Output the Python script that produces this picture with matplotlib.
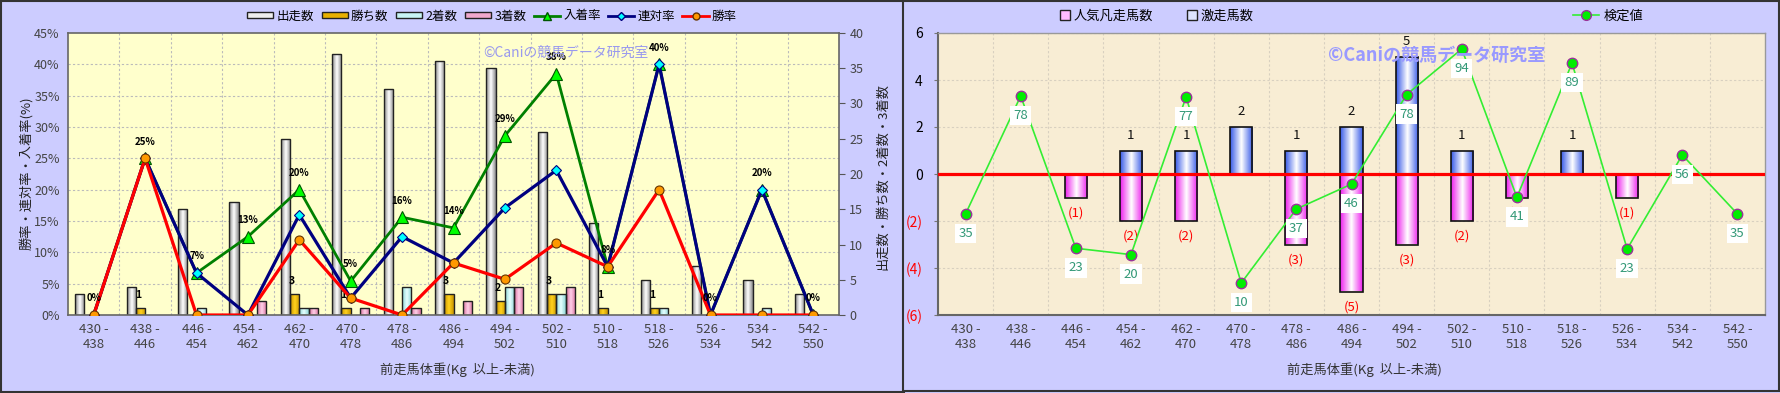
import numpy as np
import matplotlib
matplotlib.use('Agg')
import matplotlib.pyplot as plt
from matplotlib.patches import Rectangle, Patch
from matplotlib.lines import Line2D
from matplotlib.colors import LinearSegmentedColormap
from matplotlib.ticker import FixedLocator, FuncFormatter

plt.rcParams['font.family'] = ['Noto Sans CJK JP', 'DejaVu Sans']

# categories (前走馬体重)
cats = ['430 -\n438', '438 -\n446', '446 -\n454', '454 -\n462', '462 -\n470',
        '470 -\n478', '478 -\n486', '486 -\n494', '494 -\n502', '502 -\n510',
        '510 -\n518', '518 -\n526', '526 -\n534', '534 -\n542', '542 -\n550']

# left chart: counts
runs = [3, 4, 15, 16, 25, 37, 32, 36, 35, 26, 13, 5, 7, 5, 3]
wins = [0, 1, 0, 0, 3, 1, 0, 3, 2, 3, 1, 1, 0, 0, 0]
seconds = [0, 0, 1, 0, 1, 0, 4, 0, 4, 3, 0, 1, 0, 1, 0]
thirds = [0, 0, 0, 2, 1, 1, 1, 2, 4, 4, 0, 0, 0, 0, 0]
# left chart: rates (%)
win_rate = [0, 25, 0, 0, 12, 2.7, 0, 8.3, 5.7, 11.5, 7.7, 20, 0, 0, 0]
rentai_rate = [0, 25, 6.7, 0, 16, 2.7, 12.5, 8.3, 17.1, 23.1, 7.7, 40, 0, 20, 0]
place_rate = [0, 25, 6.7, 12.5, 20, 5.4, 15.6, 13.9, 28.6, 38.5, 7.7, 40, 0, 20, 0]
place_lbl = ['0%', '25%', '7%', '13%', '20%', '5%', '16%', '14%', '29%', '38%',
             '8%', '40%', '0%', '20%', '0%']

# right chart
gekiso = [0, 0, 0, 1, 1, 2, 1, 2, 5, 1, 0, 1, 0, 0, 0]
bonso = [0, 0, -1, -2, -2, 0, -3, -5, -3, -2, -1, 0, -1, 0, 0]
kentei_y = [-1.70, 3.32, -3.16, -3.43, 3.28, -4.64, -1.49, -0.43, 3.38, 5.32,
            -0.99, 4.72, -3.19, 0.81, -1.70]
kentei_lbl = [35, 78, 23, 20, 77, 10, 37, 46, 78, 94, 41, 89, 23, 56, 35]

W, H = 1780, 393
LAV = '#CCCCFF'
GRAY = '#444444'


def grad_bars(ax, bars, c_edge, c_mid):
    cm = LinearSegmentedColormap.from_list('g', [c_edge, c_mid, c_edge])
    g = np.linspace(0, 1, 40).reshape(1, -1)
    for b in bars:
        h = b.get_height()
        if h == 0:
            b.set_linewidth(0)
            continue
        x0, y0, w = b.get_x(), b.get_y(), b.get_width()
        im = ax.imshow(g, cmap=cm, extent=[x0, x0 + w, y0, y0 + h],
                       aspect='auto', zorder=b.get_zorder() - 0.05)
        im.set_clip_path(b)


fig = plt.figure(figsize=(W / 100, H / 100), dpi=100)
fig.patch.set_facecolor(LAV)
fig.add_artist(Rectangle((0.0005, 0.002), 903 / W, 0.996, transform=fig.transFigure,
                         facecolor=LAV, edgecolor='#333333', lw=1.5, zorder=0))
fig.add_artist(Rectangle((903 / W, 0.004), 876 / W, 0.994, transform=fig.transFigure,
                         facecolor=LAV, edgecolor='#333333', lw=1.5, zorder=0))

x = np.arange(len(cats))

# ---------------- left chart ----------------
axb = fig.add_axes([68 / W, 78 / H, 771 / W, 282 / H])
axb.set_facecolor('#FFFFCC')
axl = axb.twinx()

bw = 0.18
series = [(runs, -0.27, '#8C8C8C', '#FFFFFF'),
          (wins, -0.09, '#C89400', '#FFD21E'),
          (seconds, 0.09, '#8ED6D6', '#E6FFFF'),
          (thirds, 0.27, '#D8709E', '#FFD0E8')]
for vals, off, ce, cmid in series:
    bars = axb.bar(x + off, vals, bw, facecolor='none', edgecolor='#222222',
                   lw=1.0, zorder=2)
    grad_bars(axb, bars, ce, cmid)
for xi, v in zip(x, wins):
    if v > 0:
        axb.annotate(str(v), (xi - 0.09, v), xytext=(-2, 9), textcoords='offset points',
                     ha='center', va='center', fontsize=7.5, fontweight='bold', zorder=3)
axb.set_xlim(-0.5, 14.5)
axb.set_ylim(0, 40)
axb.yaxis.tick_right()
axb.yaxis.set_label_position('right')
axb.set_yticks(np.arange(0, 41, 5))
axb.yaxis.set_minor_locator(FixedLocator(np.arange(5, 46, 5) * 40 / 45))
axb.xaxis.set_minor_locator(FixedLocator(np.arange(0.5, 14, 1)))
axb.grid(which='minor', color='#BBBBBB', ls=(0, (2, 2)), lw=0.8)
axb.set_axisbelow(True)
axb.set_xticks(x, cats)
axb.tick_params(axis='x', which='both', length=0, labelsize=9.5, labelcolor=GRAY, pad=6)
axb.tick_params(axis='y', which='minor', length=0)
axb.tick_params(axis='y', which='major', length=4, labelsize=9, labelcolor=GRAY,
                color='#555555')
for s in axb.spines.values():
    s.set_color('#666666')
    s.set_linewidth(1.2)

axl.yaxis.tick_left()
axl.yaxis.set_label_position('left')
axl.set_ylim(0, 45)
axl.set_yticks(np.arange(0, 46, 5))
axl.yaxis.set_major_formatter(FuncFormatter(lambda v, p: '%d%%' % v))
axl.tick_params(axis='y', length=0, labelsize=9, labelcolor=GRAY, pad=6)
for s in axl.spines.values():
    s.set_visible(False)
axl.plot(x, place_rate, color='#008000', lw=2, marker='^', ms=8, mfc='#00FF00',
         mec='#005500', mew=0.8, zorder=3)
axl.plot(x, rentai_rate, color='#000080', lw=2.3, marker='D', ms=5.5, mfc='#00FFFF',
         mec='#000080', mew=0.8, zorder=4)
axl.plot(x, win_rate, color='#FF0000', lw=2.3, marker='o', ms=6.5, mfc='#FF9900',
         mec='#663300', mew=0.8, zorder=5)
for xi, v, t in zip(x, place_rate, place_lbl):
    axl.annotate(t, (xi, v), xytext=(0, 12), textcoords='offset points', ha='center',
                 va='center', fontsize=7, fontweight='bold', zorder=6)

fig.text(26 / W, 0.56, '勝率・連対率・入着率(%)', rotation=90, ha='center',
         va='center', fontsize=9.5, color='#222222')
fig.text(883 / W, 0.55, '出走数・勝ち数・2着数・3着数', rotation=90, ha='center',
         va='center', fontsize=9.5, color='#222222')
fig.text(457 / W, 1 - 370 / H, '前走馬体重(Kg  以上-未満)', ha='center', va='center',
         fontsize=9.5, color='#333333')
fig.text(483 / W, 1 - 53 / H, '©Caniの競馬データ研究室', ha='left', va='center',
         fontsize=10, color='#9999EE')

lh = [Patch(facecolor='#EEEEEE', edgecolor='#222222', label='出走数'),
      Patch(facecolor='#E8B000', edgecolor='#222222', label='勝ち数'),
      Patch(facecolor='#C8F4F4', edgecolor='#222222', label='2着数'),
      Patch(facecolor='#F0A8CC', edgecolor='#222222', label='3着数'),
      Line2D([], [], color='#008000', lw=2, marker='^', ms=6, mfc='#00FF00',
             mec='#005500', label='入着率'),
      Line2D([], [], color='#000080', lw=2, marker='D', ms=4.5, mfc='#00FFFF',
             mec='#000080', label='連対率'),
      Line2D([], [], color='#FF0000', lw=2, marker='o', ms=5, mfc='#FF9900',
             mec='#663300', label='勝率')]
fig.legend(handles=lh, loc='center', bbox_to_anchor=(492 / W, 1 - 16 / H), ncol=7,
           frameon=False, fontsize=9, handlelength=2.1, handleheight=0.4,
           handletextpad=0.25, columnspacing=0.6)

# ---------------- right chart ----------------
axr = fig.add_axes([938 / W, 78 / H, 827 / W, 282 / H])
axr.set_facecolor('#F8EDD4')
b1 = axr.bar(x, gekiso, 0.4, facecolor='none', edgecolor='#111111', lw=1.2, zorder=2)
grad_bars(axr, b1, '#3A5CE8', '#FFFFFF')
b2 = axr.bar(x, bonso, 0.4, facecolor='none', edgecolor='#111111', lw=1.2, zorder=2)
grad_bars(axr, b2, '#EE22EE', '#FFFFFF')
axr.axhline(0, color='#FF0000', lw=2.3, zorder=3)
for xi, v in zip(x, gekiso):
    if v > 0:
        axr.annotate(str(v), (xi, v), xytext=(0, 11), textcoords='offset points',
                     ha='center', va='center', fontsize=9.5, color='#111111', zorder=3.5)
for xi, v in zip(x, bonso):
    if v < 0:
        axr.annotate('(%d)' % -v, (xi, v), xytext=(0, -11), textcoords='offset points',
                     ha='center', va='center', fontsize=9.5, color='#FF0000', zorder=3.5)
axr.plot(x, kentei_y, color='#33EE33', lw=1.2, marker='o', ms=7.5, mfc='#00EE00',
         mec='#993399', mew=1.0, zorder=4)
for xi, v, t in zip(x, kentei_y, kentei_lbl):
    axr.annotate(str(t), (xi, v), xytext=(0, -14), textcoords='offset points',
                 ha='center', va='center', fontsize=9.5, color='#339977', zorder=5,
                 bbox=dict(boxstyle='square,pad=0.25', fc='white', ec='none'))
axr.set_xlim(-0.5, 14.5)
axr.set_ylim(-6, 6)
axr.set_yticks(np.arange(-6, 7, 2))
axr.yaxis.set_major_formatter(FuncFormatter(
    lambda v, p: '(%d)' % -v if v < 0 else '%d' % v))
axr.xaxis.set_minor_locator(FixedLocator(np.arange(0.5, 14, 1)))
axr.grid(which='minor', axis='x', color='#D8D0C0', ls=(0, (2, 2)), lw=0.8)
axr.grid(which='major', axis='y', color='#D8D0C0', ls=(0, (2, 2)), lw=0.8)
axr.set_axisbelow(True)
axr.set_xticks(x, cats)
axr.tick_params(axis='x', which='both', length=0, labelsize=9.5, labelcolor=GRAY, pad=6)
axr.tick_params(axis='y', length=3, labelsize=10, pad=8, color='#777777')
for lab, v in zip(axr.get_yticklabels(), np.arange(-6, 7, 2)):
    lab.set_color('#FF0000' if v < 0 else '#000000')
for k, s in axr.spines.items():
    s.set_color('#666666' if k in ('left', 'bottom') else '#999999')
    s.set_linewidth(1.5 if k in ('left', 'bottom') else 1.0)

fig.text(1364 / W, 1 - 370 / H, '前走馬体重(Kg  以上-未満)', ha='center', va='center',
         fontsize=9.5, color='#333333')
fig.text(1328 / W, 1 - 55 / H, '©Caniの競馬データ研究室', ha='left', va='center',
         fontsize=13, fontweight='bold', color='#9999FF')

rh = [Patch(facecolor='#FFBBFF', edgecolor='#222222', label='人気凡走馬数'),
      Patch(facecolor='#DDE4FF', edgecolor='#222222', label='激走馬数')]
fig.legend(handles=rh, loc='center', bbox_to_anchor=(1157 / W, 1 - 16 / H), ncol=2,
           frameon=False, fontsize=9.5, handlelength=0.7, handleheight=0.7,
           handletextpad=0.3, columnspacing=2.6)
kh = [Line2D([], [], color='#33EE33', lw=1.2, marker='o', ms=7, mfc='#00EE00',
             mec='#993399', label='検定値')]
fig.legend(handles=kh, loc='center', bbox_to_anchor=(1608 / W, 1 - 16 / H),
           frameon=False, fontsize=9.5, handlelength=2.0, handletextpad=0.3)

fig.savefig('out.png', dpi=100, facecolor=fig.get_facecolor())
